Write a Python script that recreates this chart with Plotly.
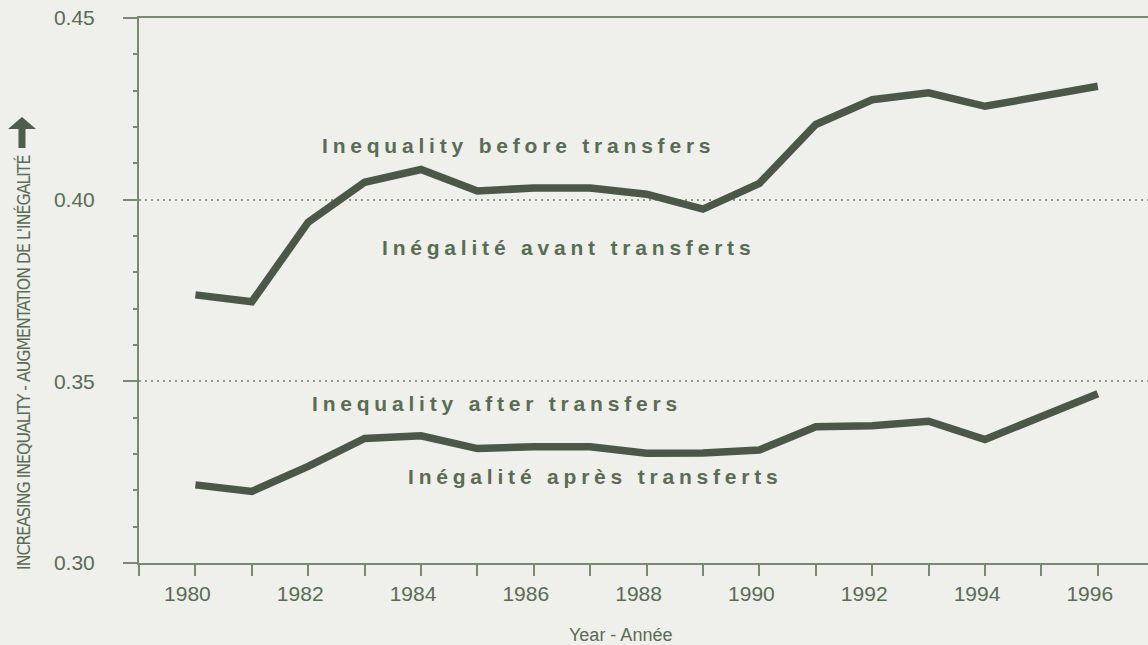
import plotly.graph_objects as go

# ---- data ----
years = list(range(1980, 1997))
before_transfers = [0.3738, 0.3719, 0.3938, 0.4048, 0.4083, 0.4024, 0.4032, 0.4032, 0.4015,
                    0.3974, 0.4045, 0.4207, 0.4275, 0.4294, 0.4257, 0.4284, 0.4312]
after_transfers = [0.3215, 0.3197, 0.3266, 0.3343, 0.3350, 0.3315, 0.3320, 0.3320, 0.3302,
                   0.3303, 0.3311, 0.3375, 0.3378, 0.3390, 0.3340, 0.3404, 0.3466]
y_tick_vals = [0.30, 0.35, 0.40, 0.45]
y_tick_text = ["0.30", "0.35", "0.40", "0.45"]
x_tick_vals = list(range(1980, 1997, 2))
x_tick_text = [str(v) for v in x_tick_vals]

line_labels = [
    ("Inequality before transfers", 1985.70, 0.4150),
    ("Inégalité avant transferts", 1986.58, 0.3867),
    ("Inequality after transfers", 1985.32, 0.3440),
    ("Inégalité après transferts", 1987.06, 0.3237),
]
x_title = "Year - Année"
y_title = "INCREASING INEQUALITY - AUGMENTATION DE L'INÉGALITÉ"

# ---- style ----
W, H = 1148, 645
ML, MR, MT, MB = 139, 0, 18, 82
PW, PH = W - ML - MR, H - MT - MB
PX_PER_YEAR = 56.4
BG = "#efefec"
LINE = "#4b5848"
AXIS = "#7a8a70"
TEXT = "#586d52"
GRID = "#8e9a88"
FONT = "Liberation Sans, Arial, sans-serif"


def px2paper(px, py):
    return (px - ML) / PW, (H - MB - py) / PH


fig = go.Figure()
for vals in (before_transfers, after_transfers):
    fig.add_trace(go.Scatter(x=years, y=vals, mode="lines",
                             line=dict(color=LINE, width=7.5, shape="linear"),
                             hoverinfo="skip", showlegend=False))

annotations = []
for txt, xv, yv in line_labels:
    annotations.append(dict(
        x=xv, y=yv, xref="x", yref="y", showarrow=False, xshift=2,
        text='<b><span style="letter-spacing:4.8px">' + txt + "</span></b>",
        font=dict(family=FONT, size=21, color=TEXT)))

tx, ty = px2paper(620, 635)
annotations.append(dict(x=tx, y=ty, xref="paper", yref="paper", showarrow=False,
                        text=x_title, font=dict(family=FONT, size=18, color=TEXT),
                        xanchor="center", yanchor="middle"))

ax_, ay_ = px2paper(23, 363)
annotations.append(dict(x=ax_, y=ay_, xref="paper", yref="paper", showarrow=False,
                        text='<span style="letter-spacing:-1px">' + y_title + "</span>",
                        textangle=-90,
                        font=dict(family="Liberation Sans Narrow, Arial Narrow, DejaVu Sans Condensed, sans-serif",
                                  size=17.5, color=TEXT),
                        xanchor="center", yanchor="middle"))

# arrow glyph at the end of the y title
arrow_px = [(22, 117), (36, 129), (25.5, 129), (25.5, 148), (18.5, 148), (18.5, 129), (8, 129)]
pts = [px2paper(a, b) for a, b in arrow_px]
path = "M " + " L ".join(f"{p[0]:.5f},{p[1]:.5f}" for p in pts) + " Z"
shapes = [dict(type="path", xref="paper", yref="paper", path=path,
               fillcolor="#4f5d4c", line=dict(width=0))]

fig.update_layout(
    width=W, height=H,
    margin=dict(l=ML, r=MR, t=MT, b=MB, pad=0),
    paper_bgcolor=BG, plot_bgcolor=BG,
    annotations=annotations, shapes=shapes,
    showlegend=False,
)

fig.update_xaxes(
    range=[1979, 1979 + PW / PX_PER_YEAR],
    tickvals=x_tick_vals, ticktext=x_tick_text,
    ticks="outside", ticklen=11, tickwidth=1.5, tickcolor=AXIS,
    minor=dict(dtick=1, tick0=1979, ticks="outside", ticklen=11, tickwidth=1.5, tickcolor=AXIS),
    showline=True, linecolor=AXIS, linewidth=2, mirror=True,
    showgrid=False, zeroline=False,
    tickfont=dict(family=FONT, size=21, color=TEXT),
    ticklabelshift=-8, ticklabelstandoff=0,
)
fig.update_yaxes(
    range=[0.30, 0.45],
    tickvals=y_tick_vals, ticktext=y_tick_text,
    ticks="outside", ticklen=14, tickwidth=1.5, tickcolor=AXIS,
    minor=dict(dtick=0.01, tick0=0.30, ticks="outside", ticklen=4, tickwidth=1.5, tickcolor=AXIS,
               showgrid=False),
    showline=True, linecolor=AXIS, linewidth=2,
    showgrid=True, gridcolor=GRID, gridwidth=1.5, griddash="2px,4px",
    zeroline=False,
    tickfont=dict(family=FONT, size=21, color=TEXT),
    ticklabelstandoff=24,
)

fig.write_html("out.html", config={"displayModeBar": False})

# remove the browser's default 8px body margin so the figure fills the window
with open("out.html", encoding="utf-8") as f:
    html = f.read()
html = html.replace("<head>", "<head><style>html,body{margin:0;padding:0;background:#efefec;overflow:hidden}</style>", 1)
with open("out.html", "w", encoding="utf-8") as f:
    f.write(html)
